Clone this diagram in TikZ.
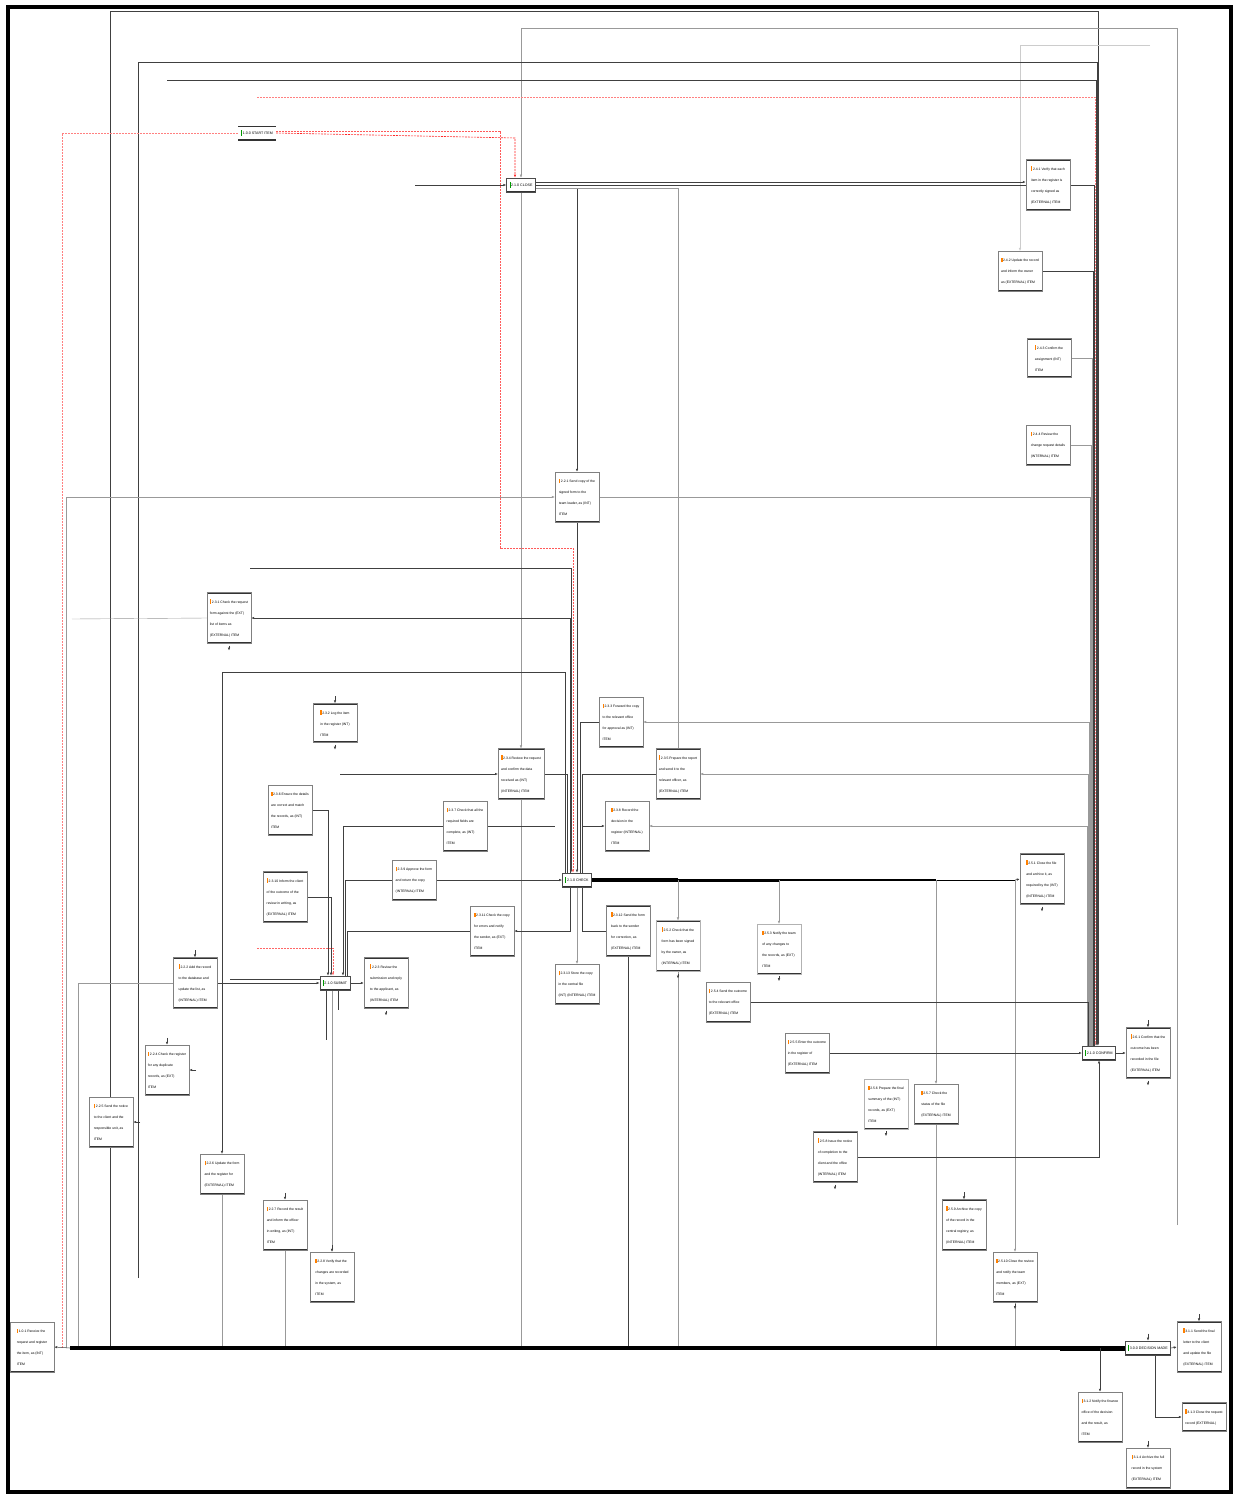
\documentclass[tikz,border=0pt]{standalone}
\usepackage{fontspec}
\setmainfont{Liberation Sans}
\usetikzlibrary{arrows.meta,calc}
\pgfdeclarelayer{back}
\pgfdeclarelayer{bg}
\pgfsetlayers{back,bg,main}
\newcommand{\oic}{{\color{orange}\rule[-0.6pt]{1.4pt}{4.6pt}}\,}
\newcommand{\gic}{{\color{green!60!black}\rule[-1pt]{1pt}{5.5pt}}\,}
\tikzset{
  conn/.style={draw=black!75, line width=0.5pt},
  faint/.style={draw=black!40, line width=0.4pt},
  arr/.style={-{Latex[length=3pt,width=2.4pt]}},
  reddot/.style={draw=red!85, line width=0.6pt, dash pattern=on 2pt off 1pt},
  palered/.style={draw=red!50, line width=0.5pt, dash pattern=on 2pt off 1pt},
  edges/.style={path picture={
      \draw[line width=2.2pt,black!80] (path picture bounding box.north west) -- (path picture bounding box.north east);
      \draw[line width=2.2pt,black!80] (path picture bounding box.south west) -- (path picture bounding box.south east);}},
  box/.style={rectangle, draw=black!50, line width=0.4pt, fill=white, edges,
      font=\fontsize{3.4}{11}\selectfont, align=left, minimum width=44pt,
      inner xsep=3pt, inner ysep=6.5pt},
  hub/.style={rectangle, draw=black!70, line width=0.6pt, fill=white, edges,
      font=\fontsize{3.6}{5}\selectfont, minimum height=14pt, inner xsep=3pt}
}
\begin{document}
\begin{tikzpicture}[x=1pt,y=-1pt]
\useasboundingbox (0,0) rectangle (1239,1497);
\begin{pgfonlayer}{back}
\fill[white] (0,0) rectangle (1239,1497);
\end{pgfonlayer}
\draw[line width=4.5pt] (8,7) rectangle (1231,1492);

% ---------- hubs ----------
\node[hub,draw=none] (h6) at (257,133) {\gic 1.0.0 START ITEM};
\node[hub] (h1) at (521,185) {\gic 2.1.0 CLOSE};
\node[hub] (h2) at (577,880) {\gic 2.1.0 CHECK};
\node[hub] (h3) at (335,983) {\gic 2.1.0 SUBMIT};
\node[hub] (h4) at (1099,1053) {\gic 2.1.0 CONFIRM};
\node[hub] (h5) at (1148,1348) {\gic 3.0.0 DECISION MADE};

% ---------- boxes ----------
\node[box] (a1) at (1048,185) {\oic 2.4.1 Verify that each\\ item in the register is\\ correctly signed as\\ (EXTERNAL) ITEM};
\node[box] (a2) at (1020,271) {\oic 2.4.2 Update the record\\ and inform the owner\\ as (EXTERNAL) ITEM};
\node[box] (a3) at (1049,358) {\oic 2.4.3 Confirm the\\ assignment (INT)\\ ITEM};
\node[box] (a4) at (1048,445) {\oic 2.4.4 Review the\\ change request details\\ (INTERNAL) ITEM};
\node[box] (a5) at (577,497) {\oic 2.2.1 Send copy of the\\ signed form to the\\ team leader, as (INT)\\ ITEM};
\node[box] (a6) at (229,618) {\oic 2.3.1 Check the request\\ form against the (EXT)\\ list of items as\\ (EXTERNAL) ITEM};
\node[box] (a7) at (335,723) {\oic 2.3.2 Log the item\\ in the register (INT)\\ ITEM};
\node[box] (a8) at (621,722) {\oic 2.3.3 Forward the copy\\ to the relevant office\\ for approval as (INT)\\ ITEM};
\node[box] (a9) at (521,774) {\oic 2.3.4 Review the request\\ and confirm the data\\ received as (INT)\\ (INTERNAL) ITEM};
\node[box] (a10) at (678,774) {\oic 2.3.5 Prepare the report\\ and send it to the\\ relevant officer, as\\ (EXTERNAL) ITEM};
\node[box] (a11) at (290,810) {\oic 2.3.6 Ensure the details\\ are correct and match\\ the records, as (INT)\\ ITEM};
\node[box] (a12) at (465,826) {\oic 2.3.7 Check that all the\\ required fields are\\ complete, as (INT)\\ ITEM};
\node[box] (a13) at (627,826) {\oic 2.3.8 Record the\\ decision in the\\ register (INTERNAL)\\ ITEM};
\node[box] (a14) at (414,880) {\oic 2.3.9 Approve the form\\ and return the copy\\ (INTERNAL) ITEM};
\node[box] (a15) at (285,897) {\oic 2.3.10 Inform the client\\ of the outcome of the\\ review in writing, as\\ (EXTERNAL) ITEM};
\node[box] (a16) at (1042,879) {\oic 2.5.1 Close the file\\ and archive it, as\\ required by the (INT)\\ (INTERNAL) ITEM};
\node[box] (a17) at (492,931) {\oic 2.3.11 Check the copy\\ for errors and notify\\ the sender, as (EXT)\\ ITEM};
\node[box] (a18) at (628,931) {\oic 2.3.12 Send the form\\ back to the sender\\ for correction, as\\ (EXTERNAL) ITEM};
\node[box,draw=black!30] (a19) at (678,946) {\oic 2.5.2 Check that the\\ form has been signed\\ by the owner, as\\ (INTERNAL) ITEM};
\node[box,draw=black!30] (a20) at (779,949) {\oic 2.5.3 Notify the team\\ of any changes to\\ the records, as (EXT)\\ ITEM};
\node[box] (a21) at (195,983) {\oic 2.2.2 Add the record\\ to the database and\\ update the list, as\\ (INTERNAL) ITEM};
\node[box] (a22) at (386,983) {\oic 2.2.3 Review the\\ submission and reply\\ to the applicant, as\\ (INTERNAL) ITEM};
\node[box] (a23) at (577,984) {\oic 2.3.13 Store the copy\\ in the central file\\ (INT) (INTERNAL) ITEM};
\node[box] (a24) at (728,1002) {\oic 2.5.4 Send the outcome\\ to the relevant office\\ (EXTERNAL) ITEM};
\node[box] (a25) at (807,1053) {\oic 2.5.5 Enter the outcome\\ in the register of\\ (EXTERNAL) ITEM};
\node[box] (a26) at (1148,1053) {\oic 2.6.1 Confirm that the\\ outcome has been\\ recorded in the file\\ (EXTERNAL) ITEM};
\node[box] (a27) at (167,1070) {\oic 2.2.4 Check the register\\ for any duplicate\\ records, as (EXT)\\ ITEM};
\node[box,draw=black!30] (a28) at (886,1104) {\oic 2.5.6 Prepare the final\\ summary of the (INT)\\ records, as (EXT)\\ ITEM};
\node[box] (a29) at (936,1104) {\oic 2.5.7 Check the\\ status of the file\\ (EXTERNAL) ITEM};
\node[box] (a30) at (111,1122) {\oic 2.2.5 Send the notice\\ to the client and the\\ responsible unit, as\\ ITEM};
\node[box] (a31) at (835,1157) {\oic 2.5.8 Issue the notice\\ of completion to the\\ client and the office\\ (INTERNAL) ITEM};
\node[box] (a32) at (222,1174) {\oic 2.2.6 Update the form\\ and the register for\\ (EXTERNAL) ITEM};
\node[box] (a33) at (964,1225) {\oic 2.5.9 Archive the copy\\ of the record in the\\ central registry, as\\ (INTERNAL) ITEM};
\node[box] (a34) at (285,1225) {\oic 2.2.7 Record the result\\ and inform the officer\\ in writing, as (INT)\\ ITEM};
\node[box] (a35) at (332,1277) {\oic 2.2.8 Verify that the\\ changes are recorded\\ in the system, as\\ ITEM};
\node[box] (a36) at (1015,1277) {\oic 2.5.10 Close the review\\ and notify the team\\ members, as (EXT)\\ ITEM};
\node[box] (a37) at (32,1347) {\oic 1.0.1 Receive the\\ request and register\\ the item, as (INT)\\ ITEM};
\node[box] (a38) at (1199,1347) {\oic 3.1.1 Send the final\\ letter to the client\\ and update the file\\ (EXTERNAL) ITEM};
\node[box] (a39) at (1100,1417) {\oic 3.1.2 Notify the finance\\ office of the decision\\ and the result, as\\ ITEM};
\node[box] (a40) at (1204,1417) {\oic 3.1.3 Close the request\\ record (EXTERNAL)};
\node[box] (a41) at (1148,1468) {\oic 3.1.4 Archive the full\\ record in the system\\ (EXTERNAL) ITEM};

% ---------- coordinates ----------
\coordinate (b62) at (62,1348);   \coordinate (b66) at (66,1348);
\coordinate (b70) at (70,1348);   \coordinate (b78) at (78,1348);
\coordinate (b110) at (110,1348); \coordinate (b222) at (222,1348);
\coordinate (b285) at (285,1348); \coordinate (b521) at (521,1348);
\coordinate (b628) at (628,1348); \coordinate (b678) at (678,1348);
\coordinate (b936) at (936,1348); \coordinate (b1015) at (1015,1348);
\coordinate (b1060) at (1060,1348); \coordinate (b1100) at (1100,1348);
\coordinate (j678) at (678,880);  \coordinate (j779) at (779,880);
\coordinate (j936) at (936,880);  \coordinate (j1015) at (1015,880);
\coordinate (e1177) at (1177,1225); \coordinate (e1150) at (1150,45);
\coordinate (e138) at (138,1278); \coordinate (e167) at (167,80);
\coordinate (e257) at (257,97);   \coordinate (e415) at (415,185);
\coordinate (e250) at (250,568);  \coordinate (e72) at (72,619);
\coordinate (e340) at (340,774);  \coordinate (e555) at (555,826);
\coordinate (e257b) at (257,948); \coordinate (e230) at (230,979);
\coordinate (e326) at (326,1040); \coordinate (e338) at (338,1010);

\begin{pgfonlayer}{bg}
% top loops
\draw[conn,arr] (b110) |- (1098,11) -- ([xshift=-1pt]h4.north);
\draw[faint,arr] (e1177) |- (521,28) -- (h1.north);
\draw[faint,draw=black!20,arr] (e1150) -| (a2.north);
\draw[conn,line width=0.8pt,arr] (e138) |- (1097,62) -- ([xshift=-2pt]h4.north);
\draw[conn,arr] (e167) -- (1096,80) -- ([xshift=-3pt]h4.north);
\draw[palered,arr] (e257) -- (1095,97) -- ([xshift=-4pt]h4.north);
% start item
\draw[reddot,arr] (h6.east) -- (515,138) -- ([xshift=-6pt]h1.north);
\draw[palered] (h6.west) -| (b62);
\draw[palered,draw=red!65,arr] ([yshift=2pt]h6.east) -| (500,548) -| ([xshift=-4pt]h2.north);
% h1
\draw[conn,arr] (e415) -- (h1.west);
\draw[conn,line width=0.8pt,arr] ([yshift=3pt]h1.east) -- ([yshift=3pt]a1.west);
\draw[conn,line width=0.8pt] (h1.east) -- (1094,185) -- ([xshift=-5pt]h4.north);
\draw[conn,arr] ([yshift=-3pt]h1.east) -| (a5.north);
\draw[faint] ([yshift=-3pt]h1.east) -| (a10.north);
\draw[faint,arr] (h1.south) -- (a9.north);
% right column
\draw[conn,line width=1pt] (a2.east) -| ([xshift=-6pt]h4.north);
\draw[faint] (a3.east) -| ([xshift=-7pt]h4.north);
\draw[faint] (a4.east) -| ([xshift=-8pt]h4.north);
% a5
\draw[faint,arr] (b66) |- (a5.west);
\draw[faint] (a5.east) -| ([xshift=-9pt]h4.north);
\draw[conn,arr] (a5.south) -- (h2.north);
\draw[conn,arr] (e250) -| ([xshift=-6pt]h2.north);
% a6
\draw[conn,arr] ([xshift=-7pt]h2.north) |- (a6.east);
\draw[faint] (a6.west) -- (e72);
% x=222
\draw[conn,arr] ([xshift=-12pt]h2.north) |- (222,672) -- (a32.north);
\draw[faint] (a32.south) -- (b222);
% a8..a13
\draw[conn] (a8.west) -| ([xshift=3pt]h2.north);
\draw[faint,arr] ([xshift=-10pt]h4.north) |- (a8.east);
\draw[conn,arr] (e340) -- (a9.west);
\draw[conn] (a9.east) -| ([xshift=-10pt]h2.north);
\draw[faint] (a9.south) -- (b521);
\draw[conn] (a10.west) -| ([xshift=5pt]h2.north);
\draw[faint,arr] ([xshift=-11pt]h4.north) |- (a10.east);
\draw[conn,arr] (a11.east) -| ([xshift=-7pt]h3.north);
\draw[conn,arr] (a12.west) -| ([xshift=8pt]h3.north);
\draw[conn] (a12.east) -- (e555);
\draw[conn,arr] ([xshift=5pt]h2.north) |- (a13.west);
\draw[faint,arr] ([xshift=-12pt]h4.north) |- (a13.east);
\draw[conn,arr] (a14.east) -- (h2.west);
\draw[conn] (a14.west) -| ([xshift=10pt]h3.north);
\draw[conn,arr] (a15.east) -| ([xshift=-4pt]h3.north);
% h2 east bundle
\draw[line width=4pt] (h2.east) -- (j678);
\draw[line width=3pt] (j678) -- (j779);
\draw[line width=2pt] (j779) -- (j936);
\draw[line width=1pt] (j936) -- (j1015);
\draw[conn,arr] (j1015) -- (a16.west);
\draw[faint,arr] (j678) -- (a19.north);
\draw[faint] (a19.south) -- (b678);
\draw[faint,arr] (j779) -- (a20.north);
\draw[faint,arr] (j936) -- (a29.north);
\draw[faint] (a29.south) -- (b936);
\draw[faint,arr] (j1015) -- (a36.north);
\draw[faint] (a36.south) -- (b1015);
% a17, a18, a23
\draw[conn] (a17.west) -| ([xshift=12pt]h3.north);
\draw[conn,arr] ([xshift=-7pt]h2.south) |- (a17.east);
\draw[conn] (a18.west) -| ([xshift=5pt]h2.south);
\draw[conn] (a18.south) -- (b628);
\draw[faint,arr] (h2.south) -- (a23.north);
% h3
\draw[conn,arr] (a21.east) -- (h3.west);
\draw[conn] (e230) -- ([yshift=4pt]h3.west);
\draw[conn,arr] (h3.east) -- (a22.west);
\draw[reddot,draw=red!60,arr] (e257b) -| ([xshift=-2pt]h3.north);
\draw[conn] ([xshift=-9pt]h3.south) -- (e326);
\draw[conn] ([xshift=3pt]h3.south) -- (e338);
\draw[faint,arr] ([xshift=-3pt]h3.south) -- (a35.north);
\draw[faint] (a21.west) -| (b78);
\draw[faint] (a34.south) -- (b285);
% h4 region
\draw[conn] (a24.east) -| ([xshift=-11pt]h4.north);
\draw[conn,line width=0.9pt,arr] (a25.east) -- (h4.west);
\draw[conn,arr] (h4.east) -- (a26.west);
\draw[conn,arr] (a31.east) -| (h4.south);
% bus and h5
\draw[line width=3.5pt] (h5.west) -- (b70);
\draw[line width=5pt] (h5.west) -- (b1060);
\draw[conn,arr] (b70) -- (a37.east);
\draw[conn,arr] (h5.east) -- (a38.west);
\draw[conn,arr] (b1100) -- (a39.north);
\draw[conn,arr] ([xshift=7pt]h5.south) |- (a40.west);
% stubs
\foreach \n in {a6,a7,a16,a22,a26,a36,a19,a20,a28,a31} {\draw[conn,arr] ([yshift=-2pt]\n.south) -- ([yshift=-7pt]\n.south);}
\foreach \n in {a21,a26,a27,a33,a41,a7,a35,a34,a38} {\draw[conn,arr] ([yshift=7pt]\n.north) -- (\n.north);}
\draw[conn,arr] ([xshift=7pt]a27.east) -- (a27.east);
\draw[conn,arr] ([xshift=7pt]a30.east) -- (a30.east);
\draw[conn,arr] ([yshift=7pt]h5.north) -- (h5.north);
\end{pgfonlayer}
\end{tikzpicture}
\end{document}
